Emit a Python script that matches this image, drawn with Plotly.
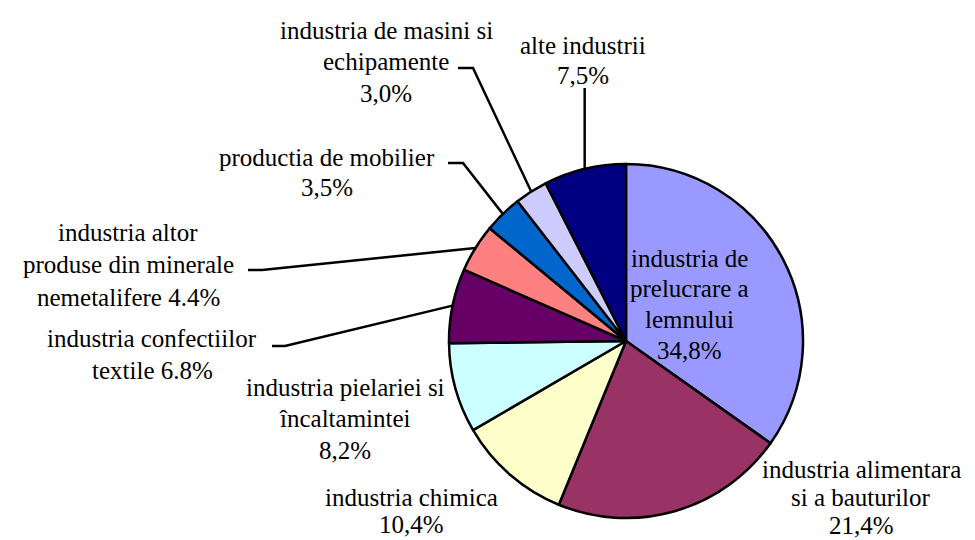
import math
import plotly.graph_objects as go

# ---- data ----
categories = [
    "industria de prelucrare a lemnului",
    "industria alimentara si a bauturilor",
    "industria chimica",
    "industria pielariei si încaltamintei",
    "industria confectiilor textile",
    "industria altor produse din minerale nemetalifere",
    "productia de mobilier",
    "industria de masini si echipamente",
    "alte industrii",
]
values = [34.8, 21.4, 10.4, 8.2, 6.8, 4.4, 3.5, 3.0, 7.5]
label_templates = [
    "industria de|prelucrare a|lemnului|{v}%",
    "industria alimentara|si a bauturilor|{v}%",
    "industria chimica|{v}%",
    "industria pielariei si|încaltamintei|{v}%",
    "industria confectiilor|textile {v}%",
    "industria altor|produse din minerale|nemetalifere {v}%",
    "productia de mobilier|{v}%",
    "industria de masini si|echipamente|{v}%",
    "alte industrii|{v}%",
]
decimal_sep = [",", ",", ",", ",", ".", ".", ",", ",", ","]
colors = ["#9999FF", "#993366", "#FFFFCC", "#CCFFFF", "#660066",
          "#FF8080", "#0066CC", "#CCCCFF", "#000080"]

# ---- layout constants (pixels) ----
W, H = 975, 540
CX, CY, R = 626, 341, 177
FONT = dict(family="Liberation Serif", size=25, color="black")

# label placement: (centre x, first line y, line spacing) in px
label_pos = [
    (689, 258, 30.7), (861, 469, 28), (411, 497, 27), (345, 387, 31.5),
    (152, 338, 32), (128, 232, 32.5), (327, 157, 30), (386, 30, 31.5),
    (583, 45, 30),
]
# leader line start/elbow points (px), None = no leader
leader_pts = [
    None, None, None, None,
    [(272, 346), (285, 346)],
    [(248, 270), (262, 270)],
    [(448, 163), (463, 163)],
    [(458, 68), (473, 68)],
    "vertical88",
]

fig = go.Figure()
fig.add_trace(go.Pie(
    labels=categories, values=values, sort=False, direction="clockwise",
    rotation=0, textinfo="none", hoverinfo="label+percent",
    marker=dict(colors=colors, line=dict(color="black", width=2.5)),
    domain=dict(x=[(CX - R) / W, (CX + R) / W],
                y=[1 - (CY + R) / H, 1 - (CY - R) / H]),
    showlegend=False,
))

# invisible pixel coordinate system for labels and leaders
fig.add_trace(go.Scatter(x=[0, W], y=[0, H], mode="markers",
                         marker=dict(opacity=0), hoverinfo="skip", showlegend=False))

total = sum(values)
cum = 0.0
shapes = []
annotations = []
for i, v in enumerate(values):
    mid = (cum + v / 2) / total * 2 * math.pi
    cum += v
    ex = CX + R * math.sin(mid)
    ey = CY - R * math.cos(mid)
    txt = label_templates[i].format(v=f"{v:.1f}".replace(".", decimal_sep[i]))
    lx, ly, sp = label_pos[i]
    for k, line in enumerate(txt.split("|")):
        annotations.append(dict(x=lx, y=ly + k * sp, xref="x", yref="y", text=line,
                                showarrow=False, font=FONT, align="center",
                                xanchor="center", yanchor="middle"))
    lp = leader_pts[i]
    if lp is None:
        continue
    if lp == "vertical88":
        path = f"M {ex} 88 L {ex} {ey}"
    else:
        (x0, y0), (x1, y1) = lp
        path = f"M {x0} {y0} L {x1} {y1} L {ex} {ey}"
    shapes.append(dict(type="path", path=path, xref="x", yref="y",
                       line=dict(color="black", width=2.5), layer="above"))

fig.update_layout(
    width=W, height=H, margin=dict(l=0, r=0, t=0, b=0),
    paper_bgcolor="white", plot_bgcolor="white",
    xaxis=dict(range=[0, W], visible=False, domain=[0, 1], fixedrange=True),
    yaxis=dict(range=[H, 0], visible=False, domain=[0, 1], fixedrange=True),
    shapes=shapes, annotations=annotations,
)

fig.write_html("out.html", post_script="document.body.style.margin='0';",
               config={"displayModeBar": False})
